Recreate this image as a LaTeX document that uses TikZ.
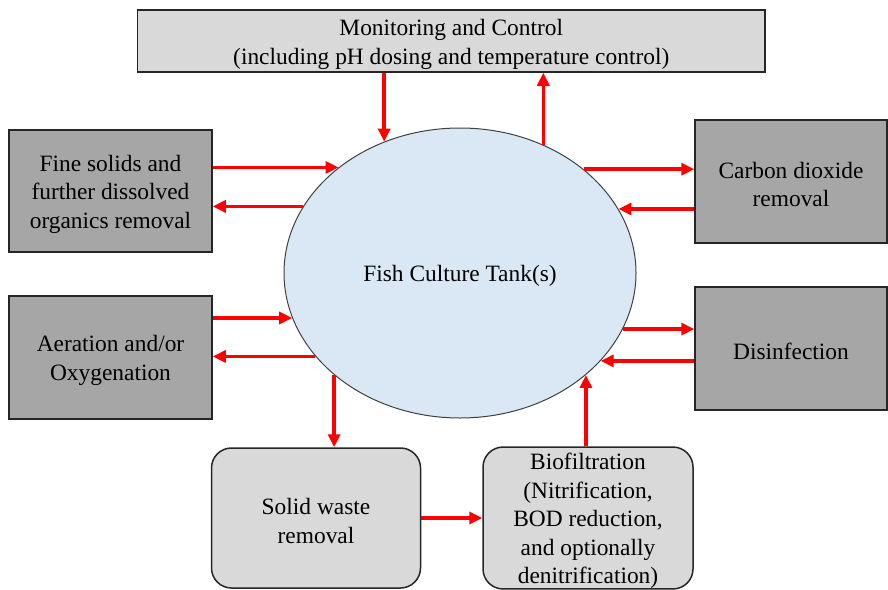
\documentclass[tikz,border=0pt]{standalone}
\usepackage{fontspec}
\setmainfont{Liberation Serif}
\newfontfamily\tnr{Liberation Serif}
\usetikzlibrary{arrows.meta,shapes.geometric}
\definecolor{lightbox}{HTML}{D9D9D9}
\definecolor{darkbox}{HTML}{A6A6A6}
\definecolor{tankfill}{HTML}{DAE8F5}
\newcommand\toppad{\rule{0pt}{22.5pt}}
\tikzset{
  txt/.style={font=\tnr\fontsize{23.4}{28.6}\selectfont, align=center, text=black, inner sep=0pt},
  sqbox/.style={txt, draw=black!85, line width=1.5pt, rectangle},
  topbox/.style={sqbox, fill=lightbox},
  sidebox/.style={sqbox, fill=darkbox},
  rndbox/.style={sqbox, fill=lightbox, rounded corners=20pt},
  tankshape/.style={txt, ellipse, draw=black!75, line width=1pt, fill=tankfill},
  arr/.style={draw=red, line width=3.5pt, -{Triangle[length=13pt,width=12pt]}}
}
\begin{document}
\begin{tikzpicture}[x=1pt,y=1pt]
\useasboundingbox (0,0) rectangle (888,-589);
\node[topbox, minimum width=627.5pt, minimum height=62pt] (top) at (451.25,-41)
  {\toppad Monitoring and Control\\(including pH dosing and temperature control)};
\node[tankshape, minimum width=352pt, minimum height=290pt] (tank) at (460,-273)
  {\toppad Fish Culture Tank(s)};
\node[sidebox, minimum width=203pt, minimum height=122pt] (fine) at (110.5,-191)
  {\toppad Fine solids and\\further dissolved\\organics removal};
\node[sidebox, minimum width=203pt, minimum height=123pt] (aer) at (110.5,-357.5)
  {\toppad Aeration and/or\\Oxygenation};
\node[sidebox, minimum width=192pt, minimum height=123pt] (co2) at (791,-181.5)
  {\toppad Carbon dioxide\\removal};
\node[sidebox, minimum width=192pt, minimum height=123pt] (dis) at (791,-348.5)
  {\toppad Disinfection};
\node[rndbox, minimum width=209pt, minimum height=140pt] (solid) at (316,-518)
  {\toppad Solid waste\\removal};
\node[rndbox, minimum width=210pt, minimum height=140pt] (bio) at (588,-518)
  {\toppad Biofiltration\\(Nitrification,\\BOD reduction,\\and optionally\\denitrification)};
% top connections
\draw[arr] (top.south -| tank.120.6) -- (tank.120.6);
\draw[arr] (tank.57.8) -- (top.south -| tank.57.8);
% left connections
\draw[arr] (fine.east |- tank.139.8) -- (tank.139.8);
\draw[arr] (tank.157.5) -- (fine.east |- tank.157.5);
\draw[arr] (aer.east |- tank.195.05) -- (tank.195.05);
\draw[arr] (tank.210.8) -- (aer.east |- tank.210.8);
% right connections
\draw[arr] (tank.40.2) -- (co2.west |- tank.40.2);
\draw[arr] (co2.west |- tank.22.5) -- (tank.22.5);
\draw[arr] (tank.-19.8) -- (dis.west |- tank.-19.8);
\draw[arr] (dis.west |- tank.-32.6) -- (tank.-32.6);
% bottom connections
\draw[arr] (tank.219.7) -- (solid.north -| tank.219.7);
\draw[arr] (solid.east) -- (bio.west);
\draw[arr] (bio.north -| tank.-39.7) -- (tank.-39.7);
\end{tikzpicture}
\end{document}
